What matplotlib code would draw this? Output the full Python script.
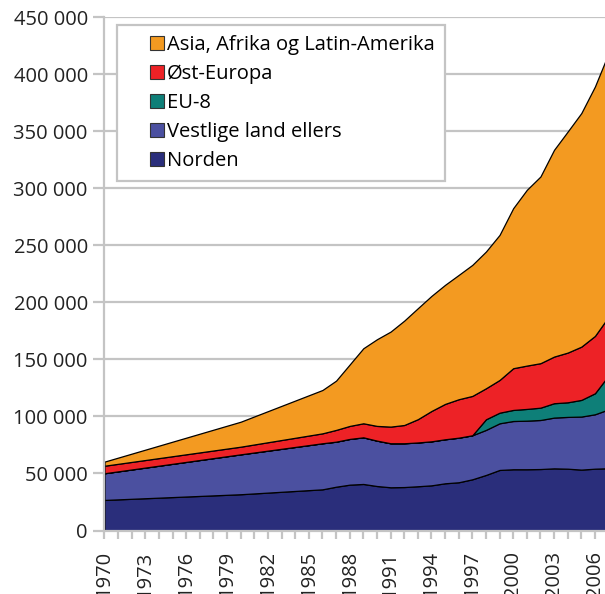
import matplotlib
matplotlib.use('Agg')
import matplotlib.pyplot as plt
from matplotlib.lines import Line2D
from matplotlib.ticker import FuncFormatter, MultipleLocator, FixedLocator

plt.rcParams['font.family'] = ['Open Sans', 'DejaVu Sans']

# årstall (1970 og 1980 er enkeltpunkt, deretter årlig)
years = [1970, 1980] + list(range(1986, 2008))

norden = [26800, 31800, 36100, 38400, 40200, 40800, 39000, 37900, 38100, 38800,
          39600, 41400, 42300, 44900, 48700, 53100, 53700, 53700, 53900, 54500,
          54200, 53400, 54200, 54600]
vestlige = [23400, 35000, 40400, 39500, 40100, 40900, 39800, 38600, 38400, 38400,
            38600, 38600, 39100, 38600, 39500, 40900, 42300, 42600, 43000, 44500,
            45400, 46500, 47700, 51600]
eu8 = [0, 0, 0, 0, 0, 0, 0, 0, 0, 0,
       0, 0, 0, 0, 9300, 9300, 9700, 10300, 10800, 12600,
       12800, 14600, 18400, 29700]
ost_europa = [6600, 6700, 8700, 10300, 11400, 12300, 12900, 14600, 16000, 20400,
              26600, 31000, 33700, 34500, 27200, 28700, 36600, 38000, 39000, 40900,
              43600, 46700, 50300, 51500]
asia_afrika = [3600, 21900, 38000, 43200, 53900, 65800, 76000, 83300, 91500, 97300,
               100900, 104400, 109000, 114900, 119900, 127200, 140300, 154100, 163700, 181300,
               193800, 204800, 218700, 231100]

labels = ['Norden', 'Vestlige land ellers', 'EU-8', 'Øst-Europa', 'Asia, Afrika og Latin-Amerika']
colors = ['#2a2e7b', '#4b50a0', '#0e7f78', '#ed2226', '#f39a21']
tick_years = list(range(1970, 2007, 3))

fig = plt.figure(figsize=(6.05, 5.94), dpi=100)
ax = fig.add_axes([0.1727, 0.1069, 0.8273, 0.864])

ax.stackplot(years, norden, vestlige, eu8, ost_europa, asia_afrika,
             colors=colors, edgecolor='black', linewidth=0.9)

ax.set_xlim(1970, 2006.74)
ax.set_ylim(0, 450000)

grid_col = '#c4c4c4'
ax.yaxis.set_major_locator(MultipleLocator(50000))
ax.yaxis.set_major_formatter(FuncFormatter(lambda v, p: f'{int(v):,}'.replace(',', ' ')))
ax.yaxis.grid(True, color=grid_col, linewidth=1.6)
ax.set_axisbelow(True)

ax.xaxis.set_major_locator(FixedLocator(tick_years))
ax.xaxis.set_minor_locator(MultipleLocator(1))
ax.xaxis.set_major_formatter(FuncFormatter(lambda v, p: f'{int(round(v))}'))
plt.setp(ax.get_xticklabels(), rotation=90)

for s in ['top', 'right']:
    ax.spines[s].set_visible(False)
for s in ['left', 'bottom']:
    ax.spines[s].set_color(grid_col)
    ax.spines[s].set_linewidth(1.6)

fs = 14.5
ax.tick_params(axis='y', which='major', length=8, width=1.6, color=grid_col,
               labelsize=fs, labelcolor='#222222', pad=4)
ax.tick_params(axis='x', which='both', length=6, width=1.6, color=grid_col,
               labelsize=fs, labelcolor='#222222', pad=9)

# legende med kvadratiske symboler
handles = [Line2D([], [], linestyle='none', marker='s', markersize=9.5,
                  markerfacecolor=c, markeredgecolor='#333333', markeredgewidth=0.8)
           for c in colors]
leg = ax.legend(handles[::-1], labels[::-1], loc='upper left',
                bbox_to_anchor=(0.025, 0.985), borderaxespad=0, fontsize=fs,
                frameon=True, fancybox=False, edgecolor=grid_col, framealpha=1,
                handlelength=2.94, handletextpad=-0.96, labelspacing=0.45,
                borderpad=0.5)
leg.get_frame().set_linewidth(1.6)

fig.savefig('out.png', dpi=100)
